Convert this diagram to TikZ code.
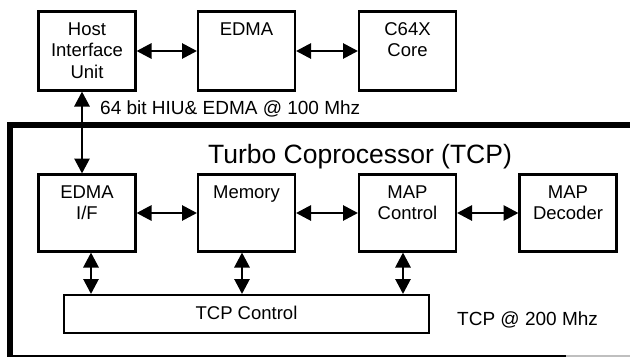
\documentclass[tikz,border=0pt]{standalone}
\usepackage{fontspec}
\setmainfont{Liberation Sans}
\usetikzlibrary{arrows.meta}
\tikzset{
  blk/.style={draw, line width=2.8pt, minimum width=97pt, minimum height=79pt, inner sep=0pt, outer sep=0pt},
  txt/.style={align=center, inner sep=0pt, anchor=base, font=\fontsize{18.5}{21.5}\selectfont},
  biarrow/.style={line width=2.8pt, {Triangle[width=15pt,length=15pt]}-{Triangle[width=15pt,length=15pt]}, shorten <=1pt, shorten >=1pt},
  frame/.style={line width=5.5pt, line cap=butt}
}
\begin{document}
\begin{tikzpicture}[x=1pt,y=-1pt]
\useasboundingbox (0,0) rectangle (630,357);
% top row boxes
\node[blk] (host) at (87,51) {};
\node[blk] (edma) at (246.5,51) {};
\node[blk] (core) at (407.5,51) {};
\node[txt] at (87,78) {Host\\Interface\\Unit};
\node[txt] at (246.5,35) {EDMA};
\node[txt] at (407.5,56.5) {C64X\\Core};
% bottom row boxes
\node[blk, minimum height=77pt] (edmaif) at (87,213) {};
\node[blk, minimum height=77pt] (mem) at (246.5,213) {};
\node[blk, minimum height=77pt] (mapc) at (407.5,213) {};
\node[blk, minimum height=77pt] (mapd) at (568,213) {};
\node[txt] at (87,219.5) {EDMA\\I/F};
\node[txt] at (246.5,198) {Memory};
\node[txt] at (407.5,219.5) {MAP\\Control};
\node[txt] at (568,219.5) {MAP\\Decoder};
% TCP control
\node[blk, line width=2.5pt, minimum width=365pt, minimum height=38pt] (tcpc) at (246.5,314) {};
\node[txt] (tcpct) at (246.5,319) {TCP Control};
% frame
\coordinate (ftl) at (10,125);
\coordinate (ftr) at (630,125);
\coordinate (fbl) at (10,356);
\coordinate (fbr) at (566,356);
\coordinate (fbe) at (630,356);
\draw[frame] ([xshift=-2.75pt]ftl) -- (ftr);
\draw[frame] (ftl) -- ([yshift=-1pt]fbl);
\draw[line width=2pt] ([xshift=-2.75pt]fbl) -- (fbr);
\draw[line width=1.5pt, black!25] (fbr) -- (fbe);
% texts
\node[txt, anchor=base west, font=\fontsize{19}{22}\selectfont] (lbl1) at (100,114) {64 bit HIU\& EDMA @ 100 Mhz};
\node[txt, font=\fontsize{26.5}{30}\selectfont] (title) at (360,163) {Turbo Coprocessor (TCP)};
\node[txt, anchor=base west, font=\fontsize{19}{22}\selectfont] (lbl2) at (457,325) {TCP @ 200 Mhz};
% connectors
\coordinate (xa) at (82,0);
\coordinate (xb) at (91,0);
\coordinate (xc) at (242,0);
\coordinate (xd) at (403,0);
\draw[biarrow] (host.east) -- (edma.west);
\draw[biarrow] (edma.east) -- (core.west);
\draw[biarrow] (host.south -| xa) -- (edmaif.north -| xa);
\draw[biarrow] (edmaif.east) -- (mem.west);
\draw[biarrow] (mem.east) -- (mapc.west);
\draw[biarrow] (mapc.east) -- (mapd.west);
\draw[biarrow] (edmaif.south -| xb) -- (tcpc.north -| xb);
\draw[biarrow] (mem.south -| xc) -- (tcpc.north -| xc);
\draw[biarrow] (mapc.south -| xd) -- (tcpc.north -| xd);
\end{tikzpicture}
\end{document}
